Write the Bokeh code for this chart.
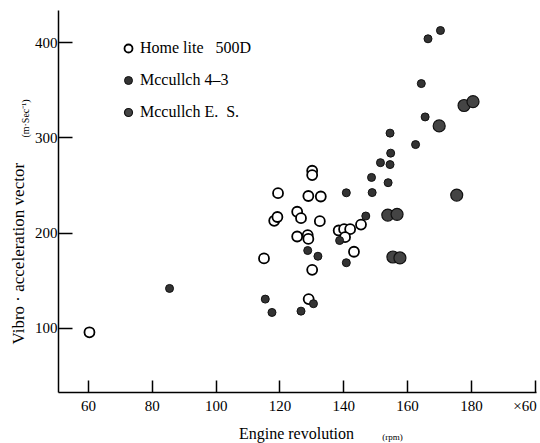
import math
from bokeh.plotting import figure
from bokeh.models import Range1d, Label, Legend, LegendItem, FixedTicker
from bokeh.embed import file_html
from bokeh.resources import INLINE

# ---- data ----
home_x = [60.3, 115.0, 119.4, 118.2, 119.2, 125.4, 126.6, 125.4, 128.7, 128.9, 128.9, 132.8,
          130.1, 130.1, 132.5, 138.4, 140.1, 142.0, 140.4, 145.4, 143.2, 130.1, 129.0]
home_y = [96, 173.5, 242, 213, 217, 222.5, 215.8, 196.5, 198, 194, 239, 238.5,
          265.5, 261, 212.6, 202.8, 204.2, 204.2, 195.8, 209, 180.5, 161.5, 130.8]

m43_x = [85.4, 115.4, 117.5, 126.6, 130.5, 128.7, 131.9, 138.7, 140.8, 140.8, 146.9, 148.7,
         148.9, 151.5, 154.5, 153.9, 154.7, 154.5, 162.5, 165.5, 164.3, 166.4, 170.3]
m43_y = [142, 130.8, 116.8, 118.2, 126, 181.8, 175.8, 192.3, 169, 242.4, 218, 258.5,
         242.6, 274, 272, 253, 284, 305, 293, 322, 357, 404, 412.7]

mes_x = [153.8, 156.7, 155.4, 157.6, 175.4, 169.9, 177.7, 180.5]
mes_y = [219, 219.8, 175, 174, 240, 312.6, 334, 338]

x_ticks = [60, 80, 100, 120, 140, 160, 180, 200]
y_ticks = [100, 200, 300, 400]
x_tick_labels = {200: "\u00d760\u00a0"}

FONT = "Liberation Serif"

p = figure(width=540, height=443, output_backend="svg", toolbar_location=None,
           x_range=Range1d(50.6, 200.4), y_range=Range1d(32.8, 433.7),
           min_border_left=58, min_border_right=4, min_border_top=10, min_border_bottom=51)
p.outline_line_color = None
p.grid.visible = False
p.background_fill_color = "white"
p.border_fill_color = "white"

for ax in (p.xaxis[0], p.yaxis[0]):
    ax.axis_line_color = "black"
    ax.axis_line_width = 1.5
    ax.major_tick_line_color = "black"
    ax.major_tick_line_width = 1.5
    ax.major_tick_out = 0
    ax.minor_tick_line_color = None
    ax.major_label_text_font = FONT
    ax.major_label_text_font_size = "15px"
    ax.major_label_text_color = "black"

p.xaxis[0].ticker = FixedTicker(ticks=x_ticks)
p.xaxis[0].major_tick_in = 12
p.xaxis[0].major_label_standoff = 5
p.xaxis[0].major_label_overrides = x_tick_labels
p.yaxis[0].ticker = FixedTicker(ticks=y_ticks)
p.yaxis[0].major_tick_in = 14
p.yaxis[0].major_label_standoff = 1

r_home = p.scatter(home_x, home_y, size=10, fill_color="white", line_color="black", line_width=1.8)
r_m43 = p.scatter(m43_x, m43_y, size=8, fill_color="#333333", line_color="#111111", line_width=1)
r_mes = p.scatter(mes_x, mes_y, size=12, fill_color="#444444", line_color="#111111", line_width=1.2)

legend = Legend(items=[LegendItem(label="Home lite   500D", renderers=[r_home]),
                       LegendItem(label="Mccullch 4\u20133", renderers=[r_m43]),
                       LegendItem(label="Mccullch E.  S.", renderers=[r_mes])],
                location=(60, 270), border_line_color=None, background_fill_alpha=0,
                padding=0, margin=0, spacing=12, label_height=20, glyph_height=20,
                glyph_width=20, label_standoff=2,
                label_text_font=FONT, label_text_font_size="16px", label_text_color="black")
p.add_layout(legend, "center")

def lab(text, x, y, size, side, angle=0.0):
    p.add_layout(Label(x=x, y=y, x_units="screen", y_units="screen", text=text,
                       text_font=FONT, text_font_size=size, text_align="center",
                       text_baseline="middle", angle=angle, text_color="black"), side)

lab("Vibro \u00b7 acceleration   vector", 6, 143, "17px", "left", angle=math.pi / 2)
lab("(m\u00b7Sec\u207b\u00b9)", 24, 274, "10px", "left", angle=math.pi / 2)
lab("Engine  revolution", 240, 0, "16px", "below")
lab("(rpm)", 334, 7, "9px", "below")

open("out.html", "w").write(file_html(p, INLINE))
